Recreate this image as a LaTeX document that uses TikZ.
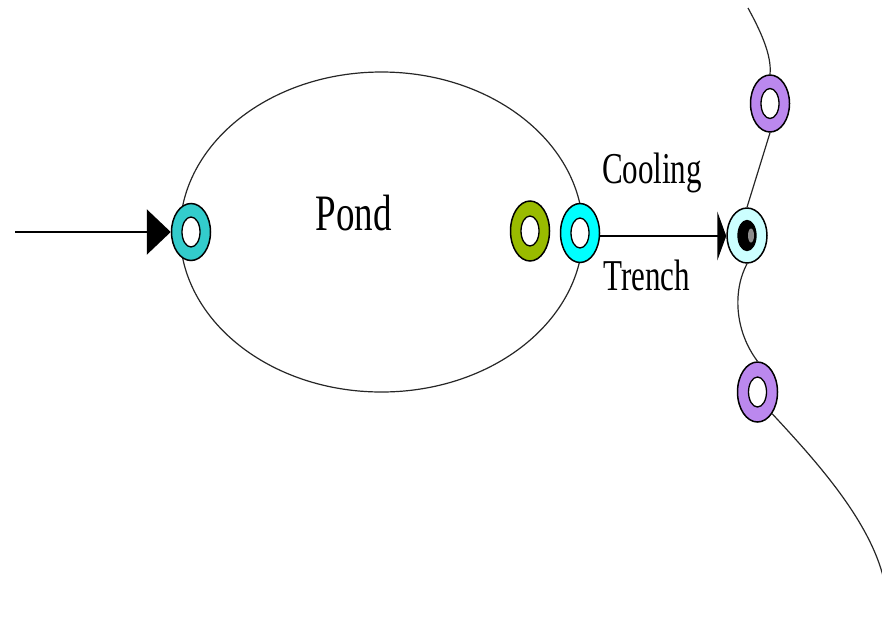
\documentclass[tikz,border=0pt]{standalone}
\usepackage{fontspec}
\setmainfont{Liberation Serif}
\usetikzlibrary{shapes.geometric,arrows.meta}
\definecolor{ringteal}{HTML}{33CCCC}
\definecolor{ringgreen}{HTML}{99BB00}
\definecolor{ringcyan}{HTML}{00FFFF}
\definecolor{ringlight}{HTML}{CCFFFF}
\definecolor{ringpurple}{HTML}{BB88EE}
\begin{document}
\begin{tikzpicture}[x=1pt,y=-1pt,
  thinline/.style={draw=black!85, line width=1.2pt},
  connline/.style={draw=black, line width=2.6pt},
  ring/.style={ellipse, draw=black, line width=1.5pt, inner sep=0pt,
    minimum width=39pt, minimum height=57pt},
  hole/.style={ellipse, draw=black, line width=1.3pt, fill=white, inner sep=0pt,
    minimum width=18pt, minimum height=30pt},
  lbl/.style={anchor=base, inner sep=0pt, text=black}
]
\useasboundingbox (0,0) rectangle (882,622);
% pond
\node[ellipse, thinline, minimum width=403pt, minimum height=320pt, inner sep=0pt] (pondshape) at (381.5,232) {};
% right-hand curve ends
\coordinate (ctop) at (748,8);
\coordinate (cend) at (884,580);
% rings
\node[ring, fill=ringteal] (inring) at (191,232) {};
\node[ring, fill=ringgreen, minimum height=60pt] (greenring) at (530,231) {};
\node[ring, fill=ringcyan, minimum height=59pt] (cyanring) at (580,233) {};
\node[ring, fill=ringpurple] (topring) at (770,103.5) {};
\node[ring, fill=ringpurple, minimum width=40pt, minimum height=60pt] (botring) at (757.5,392) {};
\node[ring, fill=ringlight, minimum width=40pt, minimum height=55pt] (lightring) at (747,235.5) {};
\foreach \r in {inring,greenring,cyanring,topring,botring}
  \node[hole] at (\r) {};
\node[hole, fill=black] (lighthole) at (lightring) {};
\fill[black!45] ([xshift=4pt]lighthole.center) ellipse [x radius=3pt, y radius=7pt];
% curve segments between rings
\draw[thinline] (ctop) .. controls (760,30) and (772,55) .. (topring.north);
\draw[thinline] (topring.south) -- (lightring.north);
\draw[thinline] (lightring.south) .. controls (733,290) and (734,330) .. (botring.north);
\draw[thinline] (botring.south east) .. controls (815,460) and (870,520) .. (cend);
% connectors
\coordinate (src) at (15,232);
\draw[connline, -{Triangle[length=24pt,width=45pt]}] (src) -- (inring.west);
\draw[connline, -{Triangle[length=9pt,width=49pt]}] (cyanring.east |- 0,236) -- (lightring.west |- 0,236);
% labels
\node[lbl] (pond) at (353.5,230) {\fontsize{37}{40}\selectfont\scalebox{1}[1.38]{Pond}};
\node[lbl] (cool) at (652,183) {\fontsize{31}{34}\selectfont\scalebox{1}[1.42]{Cooling}};
\node[lbl] (trench) at (646.5,290) {\fontsize{31}{34}\selectfont\scalebox{1}[1.42]{Trench}};
\end{tikzpicture}
\end{document}
